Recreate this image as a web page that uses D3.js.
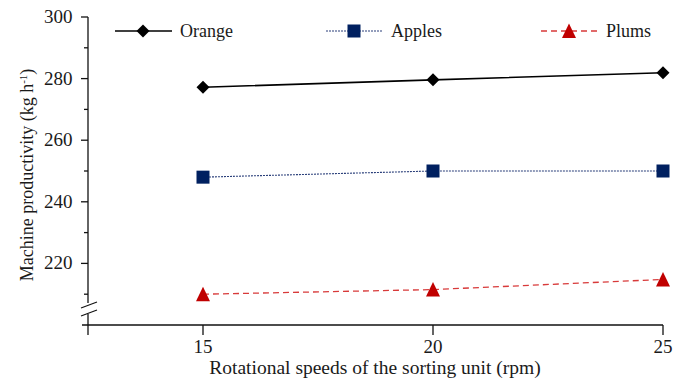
<!DOCTYPE html>
<html><head><meta charset="utf-8">
<script src="https://cdn.jsdelivr.net/npm/d3@7"></script>
<style>body{margin:0;background:#fff}svg{display:block}svg text{font-family:'Liberation Serif','Times New Roman',serif}</style>
</head><body><svg id="c" width="688" height="383"></svg>
<script>
const speeds = [15, 20, 25];
const orange = [277.2, 279.6, 281.9];
const apples = [248, 250, 250];
const plums = [210, 211.5, 214.8];
const yTicks = [220, 240, 260, 280, 300];
const yMinor = [210, 230, 250, 270, 290];
const xTicks = [15, 20, 25];
const seriesNames = ["Orange", "Apples", "Plums"];

const svg = d3.select("#c");
const ink = "#1a1a1a";
const x = d3.scaleLinear().domain([12.5, 25]).range([88, 663]);
const y = d3.scaleLinear().domain([200, 300]).range([325, 17]);

// y axis
svg.append("line").attr("x1",88).attr("x2",88).attr("y1",y(300)).attr("y2",335).attr("stroke","#111").attr("stroke-width",1.3);
svg.selectAll(".ymaj").data(yTicks).join("line").attr("x1",81).attr("x2",88)
  .attr("y1",d=>y(d)).attr("y2",d=>y(d)).attr("stroke","#111").attr("stroke-width",1.3);
svg.selectAll(".ymin").data(yMinor).join("line").attr("x1",84).attr("x2",88)
  .attr("y1",d=>y(d)).attr("y2",d=>y(d)).attr("stroke","#111").attr("stroke-width",1.3);
svg.selectAll(".ylab").data(yTicks).join("text").attr("x",72.5).attr("y",d=>y(d)+6)
  .attr("text-anchor","end").attr("font-size",19).attr("fill",ink).text(d=>d);
// break marks
svg.append("rect").attr("x",86).attr("y",303).attr("width",4).attr("height",11).attr("fill","#fff");
[0,8].forEach(o=>{
  svg.append("line").attr("x1",81).attr("x2",97).attr("y1",308+o).attr("y2",302+o).attr("stroke","#111").attr("stroke-width",1.1);
});

// x axis
svg.append("line").attr("x1",82).attr("x2",x(25)).attr("y1",325).attr("y2",325).attr("stroke","#111").attr("stroke-width",1.3);
svg.selectAll(".xt").data(xTicks).join("line").attr("x1",d=>x(d)).attr("x2",d=>x(d))
  .attr("y1",325).attr("y2",335).attr("stroke","#111").attr("stroke-width",1.3);
svg.selectAll(".xl").data(xTicks).join("text").attr("x",d=>x(d)).attr("y",353)
  .attr("text-anchor","middle").attr("font-size",19).attr("fill",ink).text(d=>d);

svg.append("text").attr("x",375).attr("y",374).attr("text-anchor","middle").attr("font-size",19.5).attr("fill",ink)
  .text("Rotational speeds of the sorting unit (rpm)");
const yt = svg.append("text").attr("transform","translate(33,175) rotate(-90)").attr("text-anchor","middle").attr("font-size",18).attr("fill",ink);
yt.append("tspan").text("Machine productivity (kg h");
yt.append("tspan").attr("dy",-6).attr("font-size",11).text("-1");
yt.append("tspan").attr("dy",6).text(")");

const line = d3.line().x((d,i)=>x(speeds[i])).y(d=>y(d));
const styles = [
  {data: orange, color:"#000", dash:null, w:1.6, sym:"diamond"},
  {data: apples, color:"#2a3f7a", dash:"2,1", w:1.1, sym:"square"},
  {data: plums, color:"#d83a3a", dash:"6,4", w:1.3, sym:"triangle"}
];
const fills = ["#000", "#002060", "#c00000"];
function marker(g, sym, cx, cy, fill){
  if(sym==="diamond") g.append("path").attr("d",`M${cx},${cy-6.5}L${cx+6.5},${cy}L${cx},${cy+6.5}L${cx-6.5},${cy}Z`).attr("fill",fill);
  if(sym==="square") g.append("rect").attr("x",cx-6.5).attr("y",cy-6.5).attr("width",13).attr("height",13).attr("fill",fill);
  if(sym==="triangle") g.append("path").attr("d",`M${cx},${cy-7.5}L${cx+7},${cy+7}L${cx-7},${cy+7}Z`).attr("fill",fill);
}
styles.forEach((s,k)=>{
  svg.append("path").attr("d",line(s.data)).attr("fill","none").attr("stroke",s.color)
    .attr("stroke-width",s.w).attr("stroke-dasharray",s.dash);
  const g = svg.append("g");
  s.data.forEach((v,i)=>marker(g, s.sym, x(speeds[i]), y(v), fills[k]));
});

// legend
const legX = [115, 326, 541];
seriesNames.forEach((n,k)=>{
  const s = styles[k], lx = legX[k], ly = 31;
  svg.append("line").attr("x1",lx).attr("x2",lx+57).attr("y1",ly).attr("y2",ly).attr("stroke",s.color)
    .attr("stroke-width",s.w).attr("stroke-dasharray",s.dash);
  marker(svg, s.sym, lx+28, ly, fills[k]);
  svg.append("text").attr("x",lx+65).attr("y",ly+6).attr("font-size",18).attr("fill",ink).text(n);
});
</script></body></html>
